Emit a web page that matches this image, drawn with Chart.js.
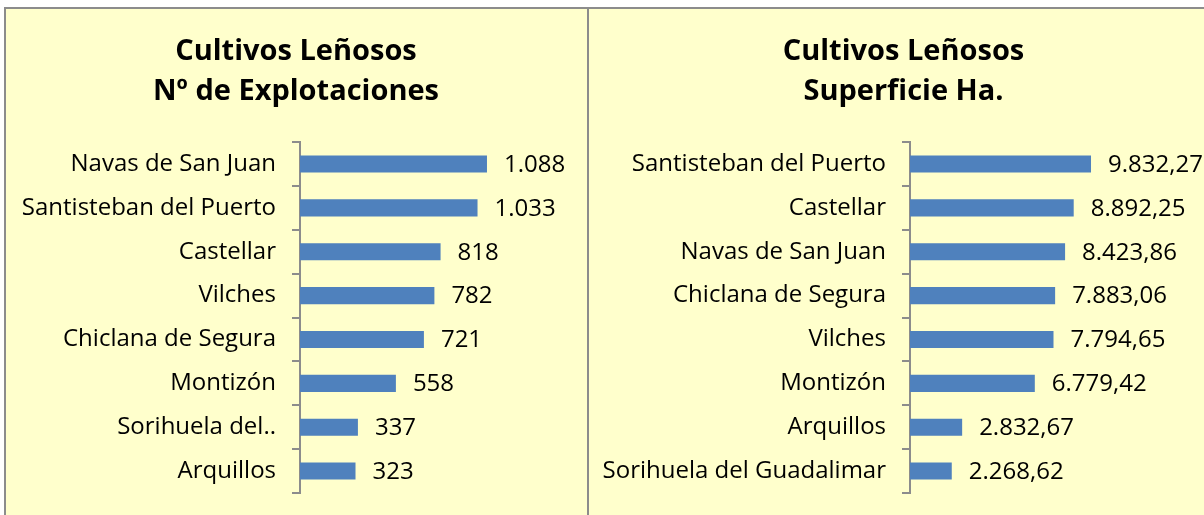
<!DOCTYPE html>
<html>
<head>
<meta charset="utf-8">
<script src="https://cdn.jsdelivr.net/npm/chart.js@4.4.1/dist/chart.umd.min.js"></script>
<style>
  html, body { margin: 0; padding: 0; background: #fff; overflow: hidden; width: 1204px; height: 515px; }
  #frame { position: absolute; left: 4px; top: 7px; width: 1240px; height: 540px; background: #ffffcc;
           border-top: 2px solid #8c8c8c; border-left: 2px solid #8c8c8c; }
  #divider { position: absolute; left: 587px; top: 7px; width: 2px; height: 540px; background: #8c8c8c; }
  canvas { position: absolute; }
</style>
</head>
<body>
<div id="frame"></div>
<div id="divider"></div>
<canvas id="chart-explot" width="582" height="507" style="left:5px;top:8px"></canvas>
<canvas id="chart-superf" width="629" height="507" style="left:589px;top:8px"></canvas>
<script>
// cultivos leñosos por municipio, dos paneles de barras horizontales

const explotCategories = [
  "Navas de San Juan", "Santisteban del Puerto", "Castellar", "Vilches",
  "Chiclana de Segura", "Montizón", "Sorihuela del Guadalimar", "Arquillos"
];
const explotValues = [1088, 1033, 818, 782, 721, 558, 337, 323];

const superfCategories = [
  "Santisteban del Puerto", "Castellar", "Navas de San Juan", "Chiclana de Segura",
  "Vilches", "Montizón", "Arquillos", "Sorihuela del Guadalimar"
];
const superfValues = [9832.27, 8892.25, 8423.86, 7883.06, 7794.65, 6779.42, 2832.67, 2268.62];

const BAR_COLOR = "#4f81bd";
const AXIS_COLOR = "#8c8c8c";
const FONT = "'Open Sans', 'Noto Sans', sans-serif";

// 1.088 / 9.832,27 style (punto de miles, coma decimal)
function fmtEs(v, dec) {
  const fixed = v.toFixed(dec);
  const parts = fixed.split(".");
  const intPart = parts[0].replace(/\B(?=(\d{3})+(?!\d))/g, ".");
  return parts.length > 1 ? intPart + "," + parts[1] : intPart;
}

// labels just past the end of each bar
const valueLabels = {
  id: "valueLabels",
  afterDatasetsDraw(chart, args, opts) {
    const ctx = chart.ctx;
    const meta = chart.getDatasetMeta(0);
    const data = chart.data.datasets[0].data;
    ctx.save();
    ctx.font = "24px " + FONT;
    ctx.fillStyle = "#000";
    ctx.textAlign = "left";
    ctx.textBaseline = "middle";
    meta.data.forEach((bar, i) => {
      ctx.fillText(fmtEs(data[i], opts.decimals || 0), bar.x + 17, bar.y + 1);
    });
    ctx.restore();
  },
};

function makeChart(canvasId, title, labels, values, opts) {
  const ctx = document.getElementById(canvasId).getContext("2d");
  return new Chart(ctx, {
    type: "bar",
    data: {
      labels: labels,
      datasets: [
        {
          data: values,
          backgroundColor: BAR_COLOR,
          borderWidth: 0,
          categoryPercentage: 1,
          barPercentage: 0.39,
        },
      ],
    },
    options: {
      indexAxis: "y",
      responsive: false,
      animation: false,
      layout: { padding: { left: 0, right: 0, top: 0, bottom: 22 } },
      plugins: {
        legend: { display: false },
        tooltip: { enabled: false },
        title: {
          display: true,
          text: title,
          color: "#000",
          font: { family: FONT, size: 29, weight: "bold", lineHeight: 1.38 },
          padding: { top: 24, bottom: 30 },
        },
        valueLabels: { decimals: opts.decimals },
      },
      scales: {
        x: { display: false, min: 0, max: opts.max },
        y: {
          afterFit: (scale) => {
            scale.width = opts.axisWidth;
            // keep label half-heights from shrinking the plot area
            scale.paddingTop = 0;
            scale.paddingBottom = 0;
          },
          border: { display: true, color: AXIS_COLOR, width: 2 },
          grid: {
            display: true,
            offset: true,
            drawOnChartArea: false,
            drawTicks: true,
            tickLength: 8,
            color: AXIS_COLOR,
            lineWidth: 2,
          },
          ticks: {
            color: "#000",
            padding: 16,
            font: { family: FONT, size: 24 },
            callback: function (value) {
              const lab = this.getLabelForValue(value);
              if (opts.truncate && lab.length > opts.truncate) return lab.slice(0, 13) + "..";
              return lab;
            },
          },
        },
      },
    },
    plugins: [valueLabels],
  });
}

makeChart("chart-explot", ["Cultivos Leñosos", "Nº de Explotaciones"], explotCategories, explotValues,
  { max: 1670, axisWidth: 295, decimals: 0, truncate: 22 });
makeChart("chart-superf", ["Cultivos Leñosos", "Superficie Ha."], superfCategories, superfValues,
  { max: 16730, axisWidth: 321, decimals: 2 });
</script>
</body>
</html>
